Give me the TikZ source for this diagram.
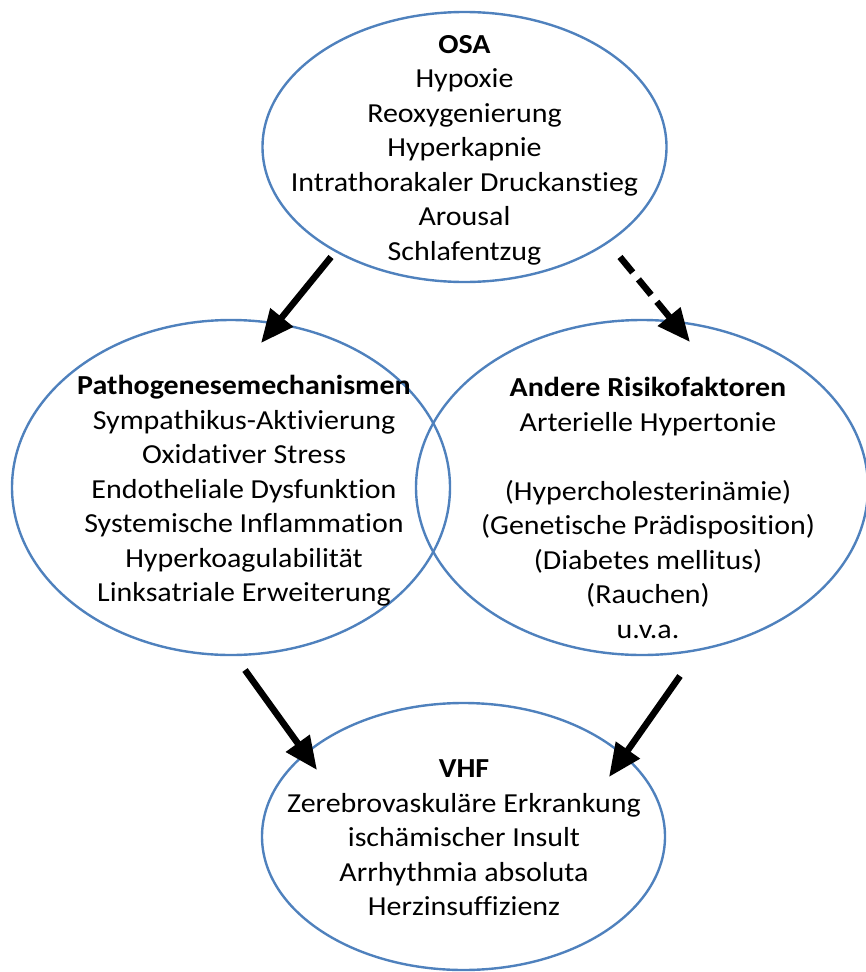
\documentclass[tikz,border=0pt]{standalone}
\usepackage{fontspec}
\setmainfont{Carlito}[Ligatures={NoCommon,NoRare,NoContextual},RawFeature={-liga;-dlig;-clig},FakeStretch=1.09]
\usetikzlibrary{shapes.geometric,arrows.meta}
\definecolor{ellblue}{RGB}{79,129,189}
\tikzset{
  ell/.style={draw=ellblue, line width=2.4pt, ellipse, inner sep=0pt, fill=none},
  txt/.style={align=center, inner sep=0pt, font=\fontsize{27.5}{34.5}\selectfont},
  bigarrow/.style={line width=6.5pt, -{Triangle[length=33pt,width=28pt]}},
}
\begin{document}
\begin{tikzpicture}[x=1pt,y=-1pt]
\useasboundingbox (0,0) rectangle (866,972);
% ellipses
\node[ell, minimum width=404pt, minimum height=270pt] (osa) at (464.5,147) {};
\node[ell, minimum width=438pt, minimum height=335pt] (path) at (231,487.5) {};
\node[ell, minimum width=452pt, minimum height=335pt] (risk) at (642,487.5) {};
\node[ell, minimum width=403pt, minimum height=267pt] (vhf) at (463.5,836.5) {};
% texts
\node[txt] (osaT) at (464.5,150) {\textbf{OSA}\\Hypoxie\\Reoxygenierung\\Hyperkapnie\\Intrathorakaler Druckanstieg\\Arousal\\Schlafentzug};
\node[txt] (pathT) at (244,491) {\textbf{Pathogenesemechanismen}\\Sympathikus-Aktivierung\\Oxidativer Stress\\Endotheliale Dysfunktion\\Systemische Inflammation\\Hyperkoagulabilität\\Linksatriale Erweiterung};
\node[txt] (riskT) at (648,508) {\textbf{Andere Risikofaktoren}\\Arterielle Hypertonie\\\mbox{}\\(Hypercholesterinämie)\\(Genetische Prädisposition)\\(Diabetes mellitus)\\(Rauchen)\\u.v.a.};
\node[txt] (vhfT) at (464,838) {\textbf{VHF}\\Zerebrovaskuläre Erkrankung\\ischämischer Insult\\Arrhythmia absoluta\\Herzinsuffizienz};
% arrow end points
\coordinate (a1s) at (331,257);
\coordinate (a1e) at (261,343);
\coordinate (a2s) at (620,257);
\coordinate (a2e) at (690,342);
\coordinate (a3s) at (245,670);
\coordinate (a3e) at (317,770);
\coordinate (a4s) at (680,676);
\coordinate (a4e) at (609,777);
\draw[bigarrow] (a1s) -- (a1e);
\draw[bigarrow, dash pattern=on 20pt off 9pt] (a2s) -- (a2e);
\draw[bigarrow] (a3s) -- (a3e);
\draw[bigarrow] (a4s) -- (a4e);
\end{tikzpicture}
\end{document}
